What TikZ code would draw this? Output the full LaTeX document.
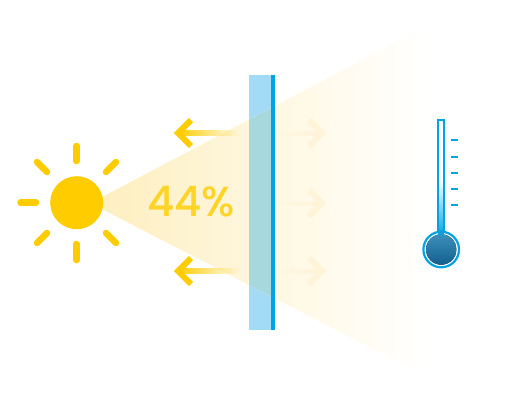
\documentclass[tikz,border=0pt]{standalone}
\usepackage{fontspec}
\setmainfont{Poppins}
\newfontfamily\pctfont{Poppins Medium}
\usetikzlibrary{fadings}
\definecolor{sun}{HTML}{FFCC00}
\definecolor{conecol}{HTML}{FEEFC0}
\definecolor{conemid}{HTML}{FFF7DF}
\definecolor{glass}{HTML}{A3DBF6}
\definecolor{glassover}{HTML}{A6D8DC}
\definecolor{edgeblue}{HTML}{00A4E4}
\definecolor{paleyellow}{HTML}{FFF4D8}
\definecolor{bulbtop}{HTML}{3D90BB}
\definecolor{bulbbot}{HTML}{125F8D}
\tikzfading[name=fadeL,left color=transparent!0,right color=transparent!100]
\tikzfading[name=fadeR,left color=transparent!100,right color=transparent!0]
\tikzset{
  ray/.style={sun,line width=6.5pt,line cap=round},
  chevron/.style={line width=6pt,line cap=butt,line join=miter},
  tick/.style={edgeblue,line width=2pt},
}
\begin{document}
\begin{tikzpicture}[x=1pt,y=-1pt]
\useasboundingbox (0,0) rectangle (521,400);
% glass
\fill[glass] (248.5,75) rectangle (271,330);
% cone
\begin{scope}
\clip (100,198) -- (425,27) -- (425,376) -- (100,208) -- cycle;
\shade[left color=conecol,middle color=conemid,right color=white,shading angle=90]
  (100,20) rectangle (425,385);
\fill[glassover] (248.5,75) rectangle (271,330);
\end{scope}
\fill[edgeblue] (270.5,75) rectangle (275,330);
% right arrows (pale)
\foreach \y in {133,203,271}{
  \fill[paleyellow,path fading=fadeR] (278,\y-2.5) rectangle (320,\y+2.5);
  \draw[paleyellow,chevron] (309,\y-13) -- (322,\y) -- (309,\y+13);
}
% left arrows
\foreach \y in {133,271}{
  \fill[sun,path fading=fadeL] (178,\y-2.8) rectangle (240,\y+2.8);
  \draw[sun,chevron] (191,\y-13) -- (178,\y) -- (191,\y+13);
}
% sun
\node[circle,fill=sun,minimum size=53pt,inner sep=0pt] (sunbody) at (76.7,202.7) {};
\draw[ray] (76.5,146) -- (76.5,161);
\draw[ray] (76.5,244) -- (76.5,260);
\draw[ray] (20.5,202.7) -- (36,202.7);
\draw[ray] (37,162) -- (47,172);
\draw[ray] (116,162) -- (106,172);
\draw[ray] (37,243) -- (47,233);
\draw[ray] (116,243) -- (106,233);
% label
\node[text=sun!85!white,font=\pctfont\fontsize{42}{42}\selectfont,inner sep=0pt,anchor=center] (pct) at (191,202) {44\%};
% thermometer
\fill[top color=white,bottom color=edgeblue] (437.7,180) rectangle (444.3,236);
\draw[edgeblue,line width=2pt] (437.7,235) -- (437.7,120) -- (444.3,120) -- (444.3,235);
\draw[edgeblue,line width=2.2pt,fill=white] (441.2,249.5) circle (17.8);
\fill[top color=bulbtop,bottom color=bulbbot] (441.2,249.5) circle (15.2);
\fill[edgeblue!70!bulbtop] (437.7,230) rectangle (444.3,236);
\foreach \y in {140,156.5,173,189,205}{
  \draw[tick] (451,\y) -- (458,\y);
}
\end{tikzpicture}
\end{document}
